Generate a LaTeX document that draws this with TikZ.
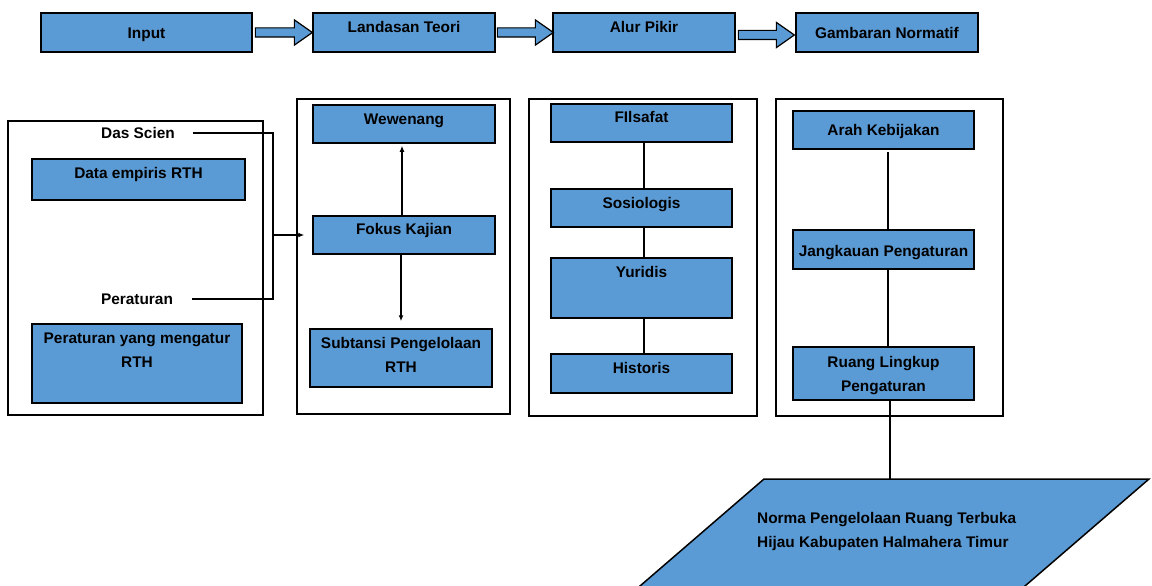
\documentclass[tikz,border=0pt]{standalone}
\usepackage{fontspec}
\setmainfont{Liberation Sans}
\usetikzlibrary{arrows.meta,shapes.arrows}
\definecolor{biru}{HTML}{5B9BD5}
\tikzset{
  kotak/.style={draw=black, fill=biru, line width=1.5pt, inner sep=0pt},
  panel/.style={draw=black, line width=1.5pt, inner sep=0pt},
  teks/.style={font=\fontsize{15.4}{24}\selectfont\bfseries, inner sep=0pt, text height=11pt, text depth=0pt},
  teksdua/.style={font=\fontsize{15.4}{24}\selectfont\bfseries, inner sep=0pt, align=center},
  garis/.style={line width=1.2pt},
  panah/.style={line width=1.2pt, -{Latex[length=6pt,width=5pt]}},
  blokpanah/.style={single arrow, draw=black, fill=biru, line width=1.2pt, inner sep=4pt,
    single arrow head extend=8pt, single arrow tip angle=70, minimum height=56pt, anchor=tail}
}
\begin{document}
\begin{tikzpicture}[x=1pt,y=-1pt]
  \useasboundingbox (0,0) rectangle (1152,586);
  \clip (0,0) rectangle (1152,586);

  % Baris atas
  \node[kotak, minimum width=211pt, minimum height=39pt] (input) at (146.5,32.5) {};
  \node[kotak, minimum width=182pt, minimum height=39pt] (landasan) at (404,32.5) {};
  \node[kotak, minimum width=182pt, minimum height=39pt] (alur) at (644,32.5) {};
  \node[kotak, minimum width=182pt, minimum height=39pt] (gambaran) at (887,32.5) {};
  \node[teks] (t-input) at (146.5,33) {Input};
  \node[teks] (t-landasan) at (404,27) {Landasan Teori};
  \node[teks] (t-alur) at (644,27) {Alur Pikir};
  \node[teks] (t-gambaran) at (887,33) {Gambaran Normatif};

  % Panah blok antar tahap
  \node[blokpanah, minimum height=57pt] (p1) at ([xshift=2pt]input.east) {};
  \node[blokpanah] (p2) at ([xshift=1pt]landasan.east) {};
  \node[blokpanah] (p3) at ([xshift=2pt, yshift=-2.5pt]alur.east) {};

  % Panel-panel
  \node[panel, minimum width=255pt, minimum height=294pt] (panel-input) at (135.5,268) {};
  \node[panel, minimum width=213pt, minimum height=315pt] (panel-teori) at (403.5,256.5) {};
  \node[panel, minimum width=228pt, minimum height=317pt] (panel-alur) at (643,257.5) {};
  \node[panel, minimum width=227pt, minimum height=317pt] (panel-normatif) at (889.5,257.5) {};

  % Input
  \node[teks] (dasscien) at (138,133) {Das Scien};
  \node[kotak, minimum width=213pt, minimum height=41pt] (data) at (138.5,179.5) {};
  \node[teks] (t-data) at (138.5,173) {Data empiris RTH};
  \node[teks] (peraturan) at (137,299) {Peraturan};
  \node[kotak, minimum width=210pt, minimum height=79pt] (aturan) at (137,363.5) {};
  \node[teksdua] (t-aturan) at (137,350) {Peraturan yang mengatur\\RTH};

  % Landasan teori
  \node[kotak, minimum width=182pt, minimum height=38pt] (wewenang) at (404,124) {};
  \node[teks] (t-wewenang) at (404,119) {Wewenang};
  \node[kotak, minimum width=182pt, minimum height=38pt] (fokus) at (404,235) {};
  \node[teks] (t-fokus) at (404,229) {Fokus Kajian};
  \node[kotak, minimum width=182pt, minimum height=58pt] (subtansi) at (401,358) {};
  \node[teksdua] (t-subtansi) at (401,355) {Subtansi Pengelolaan\\RTH};

  % Alur pikir
  \node[kotak, minimum width=181pt, minimum height=38pt] (filsafat) at (641.5,123) {};
  \node[teks] (t-filsafat) at (641.5,117) {FIlsafat};
  \node[kotak, minimum width=181pt, minimum height=38pt] (sosiologis) at (641.5,208) {};
  \node[teks] (t-sosiologis) at (641.5,203) {Sosiologis};
  \node[kotak, minimum width=181pt, minimum height=60pt] (yuridis) at (641.5,288) {};
  \node[teks] (t-yuridis) at (641.5,272) {Yuridis};
  \node[kotak, minimum width=181pt, minimum height=39pt] (historis) at (641.5,373.5) {};
  \node[teks] (t-historis) at (641.5,368) {Historis};

  % Gambaran normatif
  \node[kotak, minimum width=181pt, minimum height=38pt] (arah) at (883.5,130) {};
  \node[teks] (t-arah) at (883.5,130) {Arah Kebijakan};
  \node[kotak, minimum width=181pt, minimum height=39pt] (jangkauan) at (883.5,249.5) {};
  \node[teks] (t-jangkauan) at (883.5,251) {Jangkauan Pengaturan};
  \node[kotak, minimum width=181pt, minimum height=53pt] (ruang) at (883.5,373.5) {};
  \node[teksdua] (t-ruang) at (883.5,375.5) {Ruang Lingkup\\Pengaturan};

  % Hasil (jajaran genjang)
  \draw[kotak] (764,479) -- (1149,479) -- (985.6,620) -- (600.6,620) -- cycle;
  \coordinate (norma-atas) at (890,479);
  \node[teksdua, align=left, anchor=west] (t-norma) at (757,531.5)
    {Norma Pengelolaan Ruang Terbuka\\Hijau Kabupaten Halmahera Timur};

  % Garis penghubung
  \coordinate (gabung) at (273,235);
  \draw[garis] ([xshift=18pt]dasscien.east) -| (gabung) |- ([xshift=19pt]peraturan.east);
  \draw[panah] (gabung) -- ([xshift=-8pt]fokus.west);
  \draw[panah] ([xshift=-2pt]fokus.north) -- ([xshift=-2pt, yshift=-2pt]wewenang.south);
  \draw[panah] ([xshift=-3pt]fokus.south) -- ([yshift=7pt]subtansi.north);

  \draw[garis] ([xshift=2.5pt]filsafat.south) -- ([xshift=2.5pt]sosiologis.north);
  \draw[garis] ([xshift=2.5pt]sosiologis.south) -- ([xshift=2.5pt]yuridis.north);
  \draw[garis] ([xshift=2.5pt]yuridis.south) -- ([xshift=2.5pt]historis.north);

  \draw[garis] ([xshift=4.5pt, yshift=-2pt]arah.south) -- ([xshift=4.5pt]jangkauan.north);
  \draw[garis] ([xshift=4.5pt]jangkauan.south) -- ([xshift=4.5pt]ruang.north);
  \draw[garis] (ruang.south -| norma-atas) -- (norma-atas);
\end{tikzpicture}
\end{document}
